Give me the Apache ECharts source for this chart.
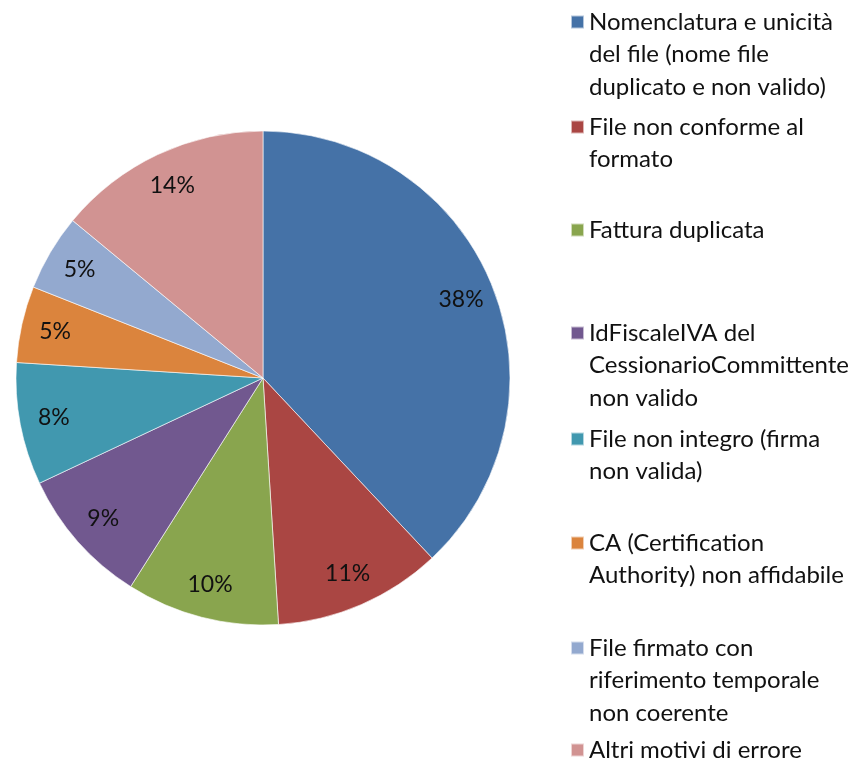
<!DOCTYPE html>
<html><head><meta charset="utf-8">
<script src="https://cdn.jsdelivr.net/npm/echarts@6/dist/echarts.min.js"></script>
<style>html,body{margin:0;padding:0;background:#fff}#c{width:860px;height:760px}</style>
</head><body><div id="c"></div>
<script>
const categories = [
  'Nomenclatura e unicità del file (nome file duplicato e non valido)',
  'File non conforme al formato',
  'Fattura duplicata',
  'IdFiscaleIVA del CessionarioCommittente non valido',
  'File non integro (firma non valida)',
  'CA (Certification Authority) non affidabile',
  'File firmato con riferimento temporale non coerente',
  'Altri motivi di errore'
];
const legendLines = [
  ['Nomenclatura e unicità', 'del file (nome file', 'duplicato e non valido)'],
  ['File non conforme al', 'formato'],
  ['Fattura duplicata'],
  ['IdFiscaleIVA del', 'CessionarioCommittente', 'non valido'],
  ['File non integro (firma', 'non valida)'],
  ['CA (Certification', 'Authority) non affidabile'],
  ['File firmato con', 'riferimento temporale', 'non coerente'],
  ['Altri motivi di errore']
];
const values = [38, 11, 10, 9, 8, 5, 5, 14];
const colors = ['#4572A7', '#AA4643', '#89A54E', '#71588F', '#4198AF', '#DB843D', '#93A9CF', '#D19392'];

const FONT = 'Lato';
const FS = 24;
const LH = 32.5;
const legendFirstY = [22, 127, 230, 333, 439, 543, 648, 750];

const data = categories.map((c, i) => ({ name: c, value: values[i] }));

const legends = categories.map((c, i) => {
  const n = legendLines[i].length;
  return {
    orient: 'vertical',
    left: 570,
    top: legendFirstY[i] - (2 * n - 1) * LH / 2,
    padding: 0,
    itemWidth: 13,
    itemHeight: 13,
    itemGap: 0,
    icon: 'rect',
    selectedMode: false,
    data: [c],
    formatter: () => '\n'.repeat(n - 1) + legendLines[i].join('\n'),
    textStyle: {
      fontFamily: FONT, fontSize: FS, lineHeight: LH, color: '#111'
    }
  };
});

const chart = echarts.init(document.getElementById('c'), null, { renderer: 'canvas' });
chart.setOption({
  animation: false,
  color: colors,
  legend: legends,
  series: [
    {
      type: 'pie',
      center: [263, 378],
      radius: [0, 247],
      startAngle: 90,
      clockwise: true,
      data: data,
      label: { show: false },
      labelLine: { show: false },
      itemStyle: { borderColor: 'rgba(255,255,255,0.6)', borderWidth: 1 },
      emphasis: { disabled: true }
    },
    {
      type: 'pie',
      center: [263, 378],
      radius: [173, 247],
      startAngle: 90,
      clockwise: true,
      silent: true,
      data: data,
      itemStyle: { color: 'rgba(0,0,0,0)', borderWidth: 0 },
      label: {
        show: true, position: 'inside',
        formatter: p => p.value + '%',
        fontFamily: FONT, fontSize: 23, color: '#111'
      },
      labelLine: { show: false },
      emphasis: { disabled: true }
    }
  ]
});
</script></body></html>
